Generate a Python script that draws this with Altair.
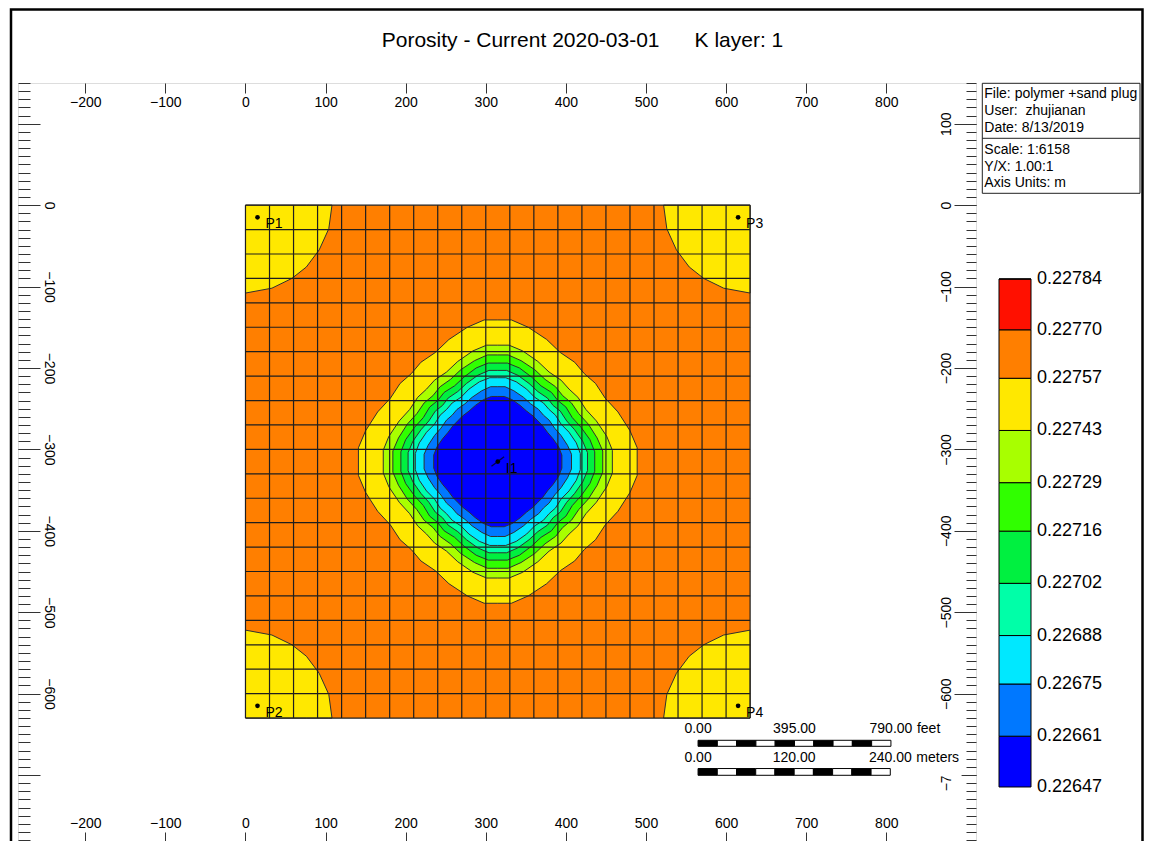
import altair as alt
import pandas as pd

FONT = "Liberation Sans"

# ---------------- data ----------------
# colour bar: contour levels (low -> high) and the colour of each band
levels = [0.22647, 0.22661, 0.22675, 0.22688, 0.22702, 0.22716,
          0.22729, 0.22743, 0.22757, 0.22770, 0.22784]
band_colors = ["#0000ff", "#0078ff", "#00e8ff", "#00ffa8", "#00f040",
               "#30ff00", "#a8ff00", "#ffe800", "#ff7f00", "#ff1000"]

# simulation grid: 21 x 21 cells of 30 m (cell edges, m)
grid_edges = [0, 30, 60, 90, 120, 150, 180, 210, 240, 270, 300,
              330, 360, 390, 420, 450, 480, 510, 540, 570, 600, 630]

# wells
well_names = ["P1", "P2", "P3", "P4", "I1"]
well_x = [15, 15, 615, 615, 315]
well_y = [-15, -615, -15, -615, -315]

# 0.22757 contour around each producer (offsets from the grid corner, m)
corner_dx = [0, 33, 58, 76, 92, 104, 108]
corner_dy = [108, 102, 90, 76, 55, 29, 0]

# contours around the injector (quarter profile: offsets from I1, m)
ring_levels = [0.22757, 0.22743, 0.22729, 0.22716, 0.22702, 0.22688, 0.22675, 0.22661]
ring_dx = [
    [0, 17, 38, 61, 78, 96, 108, 122, 134, 150, 165, 174],
    [0, 14, 31, 50, 64, 79, 89, 100, 110, 123, 136, 143],
    [0, 13, 29, 46, 59, 72, 81, 92, 101, 113, 124, 131],
    [0, 12, 27, 42, 54, 67, 75, 85, 93, 104, 115, 121],
    [0, 11, 25, 39, 50, 62, 69, 78, 86, 96, 106, 112],
    [0, 10, 23, 36, 46, 57, 64, 72, 79, 89, 98, 103],
    [0, 9, 20, 32, 41, 51, 57, 64, 71, 79, 87, 92],
    [0, 8, 18, 28, 36, 44, 50, 56, 62, 69, 76, 80],
]
ring_dy = [
    [174, 174, 165, 150, 134, 122, 108, 96, 78, 61, 38, 17],
    [143, 143, 136, 123, 110, 100, 89, 79, 64, 50, 31, 14],
    [131, 131, 124, 113, 101, 92, 81, 72, 59, 46, 29, 13],
    [121, 121, 115, 104, 93, 85, 75, 67, 54, 42, 27, 12],
    [112, 112, 106, 96, 86, 78, 69, 62, 50, 39, 25, 11],
    [103, 103, 98, 89, 79, 72, 64, 57, 46, 36, 23, 10],
    [92, 92, 87, 79, 71, 64, 57, 51, 41, 32, 20, 9],
    [80, 80, 76, 69, 62, 56, 50, 44, 36, 28, 18, 8],
]

# axis ticks
x_major = [-200, -100, 0, 100, 200, 300, 400, 500, 600, 700, 800]
y_major = [100, 0, -100, -200, -300, -400, -500, -600, -700]
y_minor = list(range(150, -790, -10))

# texts
title_text = "Porosity - Current 2020-03-01" + "\u00a0" * 6 + "K layer: 1"
info_lines = ["File: polymer +sand plug", "User:\u00a0\u00a0zhujianan", "Date: 8/13/2019",
              "Scale: 1:6158", "Y/X: 1.00:1", "Axis Units: m"]
feet_ticks = [0, 395, 790]
meter_ticks = [0, 120, 240]
FT = 0.3048

# ---------------- layout / style ----------------
W, H = 958, 758
x_scale = alt.Scale(domain=[-284, 912], nice=False, zero=False)
y_scale = alt.Scale(domain=[-781, 150], nice=False, zero=False)
SB_X0 = 565                      # scale bar start (m)
FEET_ROW, FEET_BAR = -643.8, (-657.3, -664.7)
M_ROW, M_BAR = -678.8, (-692.0, -700.3)
LINE = "#303030"

# threshold colour scale on the inner contour levels
thresholds = levels[1:-1]
color_scale = alt.Scale(type="threshold", domain=thresholds, range=band_colors)
# the legend bar spans one band-width beyond the outer thresholds; keep end labels inside it
_step = (thresholds[-1] - thresholds[0]) / (len(thresholds) - 1)
_lo = max(levels[0], thresholds[0] - _step + 1e-9)
_hi = min(levels[-1], thresholds[-1] + _step - 1e-9)
# first entry of a discrete legend carries no label, so the lowest value is given twice
legend_values = [_lo, _lo] + thresholds + [_hi]
color_legend = alt.Legend(type="gradient", orient="none", legendX=981, legendY=196,
                          direction="vertical", gradientLength=508, gradientThickness=32,
                          title=None, values=legend_values, format=".5f", labelFontSize=18,
                          labelOffset=6, labelOverlap=False, labelFont=FONT,
                          labelColor="black", gradientStrokeColor="black",
                          gradientStrokeWidth=1, padding=0)


def color_enc():
    return alt.Color("level:Q", scale=color_scale, legend=color_legend)


def band_value(upper):
    j = levels.index(upper)
    return (levels[j - 1] + levels[j]) / 2


common_axis = dict(domain=False, grid=False, labelFont=FONT, labelFontSize=14,
                   labelColor="black", tickColor="#333333", tickWidth=1,
                   labelFlush=False, labelOverlap=False, title=None)
ax_top = alt.Axis(orient="bottom", offset=-H, values=x_major, tickSize=10,
                  labelPadding=2, labelAngle=0, **common_axis)
ax_bottom = alt.Axis(orient="top", offset=-H, values=x_major, tickSize=9,
                     labelPadding=2, labelAngle=0, **common_axis)
ax_left = alt.Axis(orient="right", offset=-W, values=y_major, tickSize=22,
                   labelPadding=4, labelAngle=90, labelAlign="center",
                   labelBaseline="alphabetic",
                   labelExpr="datum.value > 50 || datum.value < -650 ? '' : datum.label",
                   **common_axis)
ax_left_minor = alt.Axis(orient="right", offset=-W, values=y_minor, tickSize=12,
                         labels=False, **common_axis)
ax_right = alt.Axis(orient="left", offset=-W, values=y_major, tickSize=22,
                    labelPadding=4, labelAngle=270, labelAlign="center",
                    labelBaseline="alphabetic", **common_axis)
ax_right_minor = alt.Axis(orient="left", offset=-W, values=y_minor, tickSize=10,
                          labels=False, **common_axis)


def X(f, axis=None):
    return alt.X(f, type="quantitative", scale=x_scale, axis=axis)


def Y(f, axis=None):
    return alt.Y(f, type="quantitative", scale=y_scale, axis=axis, stack=None)


layers = []

# orange background of the grid
base_df = pd.DataFrame({"x0": [grid_edges[0]], "x1": [grid_edges[-1]],
                        "y0": [-grid_edges[0]], "y1": [-grid_edges[-1]],
                        "level": [band_value(0.22770)]})
layers.append(alt.Chart(base_df).mark_rect(strokeWidth=0).encode(
    x=X("x0", ax_top), x2="x1", y=Y("y0", ax_left), y2="y1", color=color_enc()))

# yellow corners around producers
gx0, gx1 = grid_edges[0], grid_edges[-1]
corner_origin = {"P1": (gx0, -gx0, 1, -1), "P2": (gx0, -gx1, 1, 1),
                 "P3": (gx1, -gx0, -1, -1), "P4": (gx1, -gx1, -1, 1)}
rows = []
for name, (ox, oy, sx, sy) in corner_origin.items():
    for dx, dy in zip(corner_dx, corner_dy):
        rows.append({"corner": name, "x": ox + sx * dx, "y": oy, "y2": oy + sy * dy,
                     "level": band_value(0.22757)})
corner_df = pd.DataFrame(rows)
layers.append(alt.Chart(corner_df).mark_area(orient="vertical", stroke=LINE, strokeWidth=1).encode(
    x=X("x", ax_bottom), y=Y("y", ax_right), y2="y2", detail="corner:N", color=color_enc()))

# contour bands around the injector
cx, cy = well_x[4], well_y[4]
for i, lev in enumerate(ring_levels):
    pts = [(-dx, dy) for dx, dy in zip(ring_dx[i][::-1], ring_dy[i][::-1]) if dx > 0]
    pts += list(zip(ring_dx[i], ring_dy[i]))
    rdf = pd.DataFrame({"x": [cx + p[0] for p in pts],
                        "y": [cy + p[1] for p in pts],
                        "y2": [cy - p[1] for p in pts],
                        "level": band_value(lev)})
    layers.append(alt.Chart(rdf).mark_area(orient="vertical", stroke=LINE, strokeWidth=1).encode(
        x=X("x"), y=Y("y"), y2="y2", color=color_enc()))

# grid lines
vgrid = pd.DataFrame({"x": grid_edges, "y": -gx0, "y2": -gx1})
hgrid = pd.DataFrame({"y": [-e for e in grid_edges], "x": gx0, "x2": gx1})
layers.append(alt.Chart(vgrid).mark_rule(color="#1e1e1e", strokeWidth=1.2).encode(
    x=X("x"), y=Y("y", ax_left_minor), y2="y2"))
layers.append(alt.Chart(hgrid).mark_rule(color="#1e1e1e", strokeWidth=1.2).encode(
    y=Y("y", ax_right_minor), x=X("x"), x2="x2"))

# scale bar (white background, bars, labels)
box_df = pd.DataFrame({"x": [542], "x2": [894], "y": [-631.5], "y2": [-701.5]})
layers.append(alt.Chart(box_df).mark_rect(fill="white", strokeWidth=0).encode(
    x=X("x"), x2="x2", y=Y("y"), y2="y2"))
seg_rows = []
for ticks, unit_len, (ya, yb) in [(feet_ticks, FT, FEET_BAR), (meter_ticks, 1.0, M_BAR)]:
    total = ticks[-1] * unit_len
    for k in range(10):
        seg_rows.append({"x": SB_X0 + total * k / 10, "x2": SB_X0 + total * (k + 1) / 10,
                         "y": ya, "y2": yb, "fill": "black" if k % 2 == 0 else "white"})
seg_df = pd.DataFrame(seg_rows)
layers.append(alt.Chart(seg_df).mark_rect(stroke="black", strokeWidth=1).encode(
    x=X("x"), x2="x2", y=Y("y"), y2="y2", fill=alt.Fill("fill:N", scale=None)))
lab_rows = []
unit_rows = []
for ticks, unit_len, row, unit in [(feet_ticks, FT, FEET_ROW, "feet"), (meter_ticks, 1.0, M_ROW, "meters")]:
    for t in ticks:
        lab_rows.append({"x": SB_X0 + t * unit_len, "y": row, "t": f"{t:.2f}"})
    unit_rows.append({"x": SB_X0 + ticks[-1] * unit_len, "y": row, "t": unit})
layers.append(alt.Chart(pd.DataFrame(lab_rows)).mark_text(
    font=FONT, fontSize=14, align="center", baseline="middle", color="black").encode(
    x=X("x"), y=Y("y"), text="t:N"))
layers.append(alt.Chart(pd.DataFrame(unit_rows)).mark_text(
    font=FONT, fontSize=14, align="left", baseline="middle", dx=26, color="black").encode(
    x=X("x"), y=Y("y"), text="t:N"))

# wells
wdf = pd.DataFrame({"name": well_names, "x": well_x, "y": well_y})
layers.append(alt.Chart(wdf).mark_circle(size=22, color="black", opacity=1).encode(
    x=X("x"), y=Y("y")))
layers.append(alt.Chart(wdf[wdf.name == "I1"]).mark_point(
    shape="M -1 0.75 L 1 -0.75", size=160, filled=False, stroke="black", strokeWidth=1.3).encode(
    x=X("x"), y=Y("y")))
layers.append(alt.Chart(wdf).mark_text(
    font=FONT, fontSize=14, align="left", baseline="alphabetic", dx=8, dy=11, color="black").encode(
    x=X("x"), y=Y("y"), text="name:N"))

# info box (top right)
one = pd.DataFrame({"a": [0]})
layers.append(alt.Chart(one).mark_rect(fill="white", stroke="#222222", strokeWidth=1).encode(
    x=alt.value(964.3), x2=alt.value(1122), y=alt.value(0.3), y2=alt.value(110.3)))
layers.append(alt.Chart(one).mark_rule(color="#222222", strokeWidth=1).encode(
    x=alt.value(964.3), x2=alt.value(1122), y=alt.value(55.3)))
info_y = [11, 28.2, 45.0, 67, 83.7, 100.3]
for line, yy in zip(info_lines, info_y):
    layers.append(alt.Chart(pd.DataFrame({"t": [line]})).mark_text(
        font=FONT, fontSize=14, align="left", baseline="middle", color="black").encode(
        x=alt.value(966.3), y=alt.value(yy), text="t:N"))

# title
layers.append(alt.Chart(pd.DataFrame({"t": [title_text]})).mark_text(
    font=FONT, fontSize=21, align="center", baseline="alphabetic", color="black").encode(
    x=alt.value(564.5), y=alt.value(-36.5), text="t:N"))

# outer frame
layers.append(alt.Chart(one).mark_rect(fillOpacity=0, stroke="black", strokeWidth=2.5).encode(
    x=alt.value(-7), x2=alt.value(1124.5), y=alt.value(-73.5), y2=alt.value(790)))

chart = (
    alt.layer(*layers)
    .resolve_axis(x="independent", y="independent")
    .properties(width=W, height=H,
                padding={"left": 10, "top": 75, "right": 170, "bottom": 0},
                autosize=alt.AutoSizeParams(type="none"))
    .configure_view(stroke="#222222", strokeWidth=1.5)
    .configure(font=FONT, background="white")
)

chart.save("out.html", embed_options={"renderer": "svg", "actions": False})
